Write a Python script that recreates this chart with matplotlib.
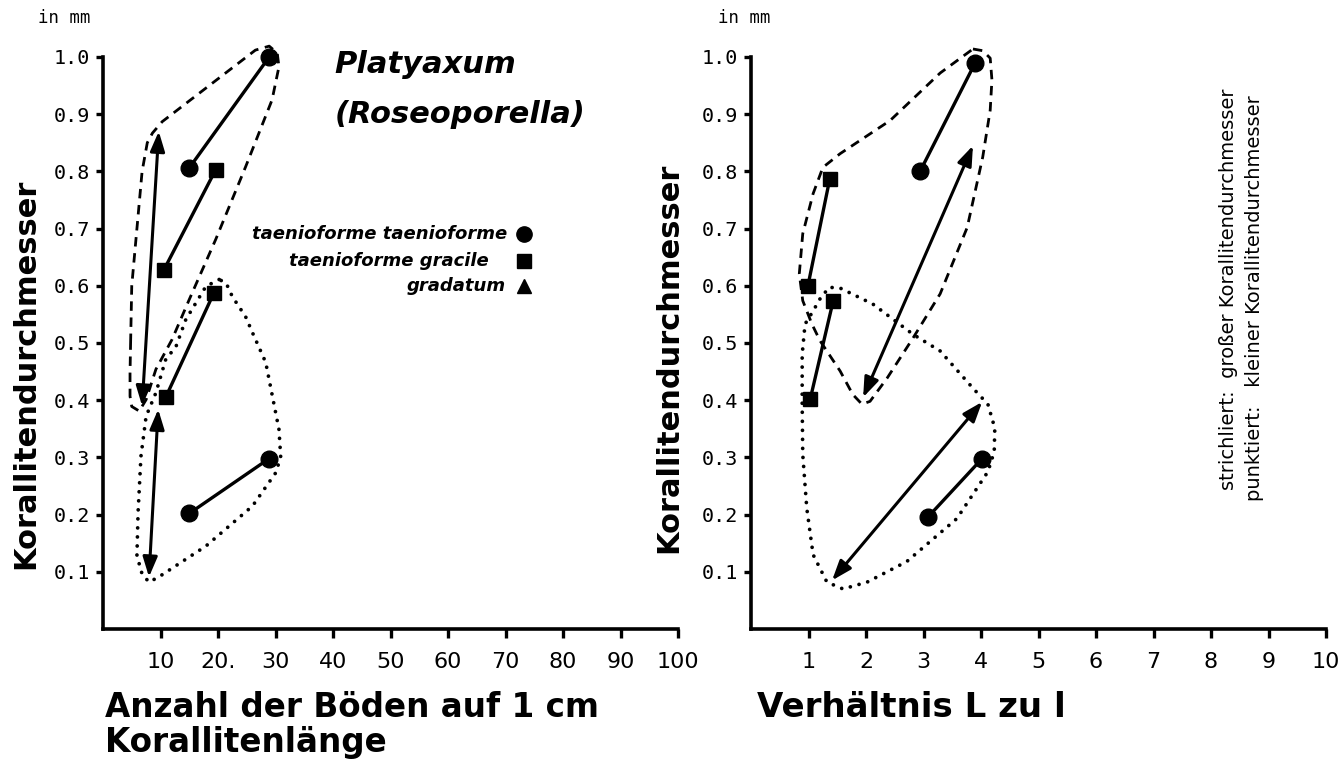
import matplotlib
matplotlib.use("Agg")
import matplotlib.pyplot as plt

# ----------------------------------------------------
# Data - left panel (Anzahl der Böden auf 1 cm)
# ----------------------------------------------------

left_xticks = [10, 20, 30, 40, 50, 60, 70, 80, 90, 100]
left_xticklabels = ["10", "20.", "30", "40", "50", "60", "70", "80", "90", "100"]

# taenioforme taenioforme (circles)
l_circ_big_x = [15.0, 28.9]
l_circ_big_y = [0.806, 1.0]
l_circ_small_x = [15.0, 28.9]
l_circ_small_y = [0.202, 0.298]

# taenioforme gracile (squares)
l_sq_big_x = [10.6, 19.6]
l_sq_big_y = [0.628, 0.803]
l_sq_small_x = [10.9, 19.3]
l_sq_small_y = [0.405, 0.588]

# gradatum (range arrows)
l_arr_big_x = [6.8, 9.7]
l_arr_big_y = [0.39, 0.87]
l_arr_small_x = [8.0, 9.6]
l_arr_small_y = [0.091, 0.384]

# outlines: dashed = large diameter, dotted = small diameter
l_dash_x = [4.8, 5.0, 5.9, 6.8, 7.7, 8.6, 10.3, 26.5, 28.9, 30.3, 30.6, 29.4, 24.8, 19.6, 15.0,
            12.0, 9.2, 7.5, 6.3, 5.0, 4.7, 4.7, 4.8]
l_dash_y = [0.50, 0.60, 0.70, 0.80, 0.85, 0.867, 0.887, 1.012, 1.019, 1.007, 0.983, 0.925, 0.808,
            0.681, 0.576, 0.506, 0.454, 0.401, 0.381, 0.389, 0.407, 0.448, 0.50]
l_dot_x = [20.2, 17.9, 14.4, 12.7, 10.9, 9.2, 7.5, 6.6, 6.1, 5.9, 6.8, 8.0, 9.7, 17.9, 26.0, 30.1,
           30.9, 30.6, 28.3, 26.0, 24.8, 22.5, 21.4, 20.2]
l_dot_y = [0.611, 0.599, 0.541, 0.494, 0.471, 0.413, 0.372, 0.302, 0.204, 0.128, 0.096, 0.082,
           0.091, 0.145, 0.215, 0.274, 0.302, 0.349, 0.466, 0.518, 0.546, 0.581, 0.605, 0.611]

# ----------------------------------------------------
# Data - right panel (Verhältnis L zu l)
# ----------------------------------------------------

right_xticks = [1, 2, 3, 4, 5, 6, 7, 8, 9, 10]

r_circ_big_x = [2.94, 3.90]
r_circ_big_y = [0.80, 0.99]
r_circ_small_x = [3.08, 4.02]
r_circ_small_y = [0.196, 0.298]

r_sq_big_x = [0.99, 1.37]
r_sq_big_y = [0.60, 0.787]
r_sq_small_x = [1.03, 1.43]
r_sq_small_y = [0.402, 0.574]

r_arr_big_x = [1.95, 3.86]
r_arr_big_y = [0.405, 0.845]
r_arr_small_x = [1.41, 4.02]
r_arr_small_y = [0.085, 0.397]

r_dash_x = [3.86, 4.03, 4.16, 4.19, 4.16, 4.03, 3.76, 3.29, 2.82, 2.37, 2.07, 1.93, 1.77, 1.55,
            1.20, 1.06, 0.90, 0.84, 0.90, 1.08, 1.25, 1.55, 2.42, 3.29, 3.86]
r_dash_y = [1.014, 1.011, 0.998, 0.960, 0.907, 0.825, 0.702, 0.586, 0.509, 0.439, 0.398, 0.393,
            0.410, 0.451, 0.504, 0.533, 0.574, 0.621, 0.691, 0.761, 0.807, 0.831, 0.889, 0.972,
            1.014]
r_dot_x = [1.41, 1.55, 2.12, 2.82, 3.29, 3.86, 4.12, 4.24, 4.23, 4.12, 3.58, 2.71, 2.02, 1.60,
           1.32, 1.08, 0.97, 0.90, 0.89, 0.89, 0.94, 1.08, 1.25, 1.41]
r_dot_y = [0.597, 0.596, 0.568, 0.515, 0.486, 0.421, 0.393, 0.351, 0.310, 0.275, 0.193, 0.118,
           0.082, 0.070, 0.082, 0.130, 0.211, 0.305, 0.393, 0.480, 0.533, 0.556, 0.586, 0.597]

yticks = [0.1, 0.2, 0.3, 0.4, 0.5, 0.6, 0.7, 0.8, 0.9, 1.0]
yticklabels = [f"{v:.1f}" for v in yticks]

legend_labels = ["taenioforme taenioforme", "taenioforme gracile", "gradatum"]
legend_markers = ["o", "s", "^"]
legend_text_x = [70.3, 67.1, 70.0]
legend_y = [0.691, 0.644, 0.599]

# ----------------------------------------------------
# Figure
# ----------------------------------------------------

MONO = "DejaVu Sans Mono"
SANS = "DejaVu Sans"

fig = plt.figure(figsize=(13.41, 7.6), dpi=100)

ax_l = fig.add_axes([103 / 1341, 131 / 760, 575 / 1341, 572 / 760])
ax_r = fig.add_axes([751 / 1341, 131 / 760, 575 / 1341, 572 / 760])

dash_style = (0, (3.4, 2.4))
dot_style = (0, (0.01, 2.4))


def style_axes(ax, xmax, xticks, xticklabels):
    ax.set_xlim(0, xmax)
    ax.set_ylim(0, 1.0)
    for side in ["top", "right"]:
        ax.spines[side].set_visible(False)
    for side in ["left", "bottom"]:
        ax.spines[side].set_linewidth(2.6)
    ax.set_xticks(xticks)
    ax.set_xticklabels(xticklabels, fontfamily=SANS, fontsize=16)
    ax.set_yticks(yticks)
    ax.set_yticklabels(yticklabels, fontfamily=MONO, fontsize=14.5)
    ax.tick_params(axis="x", length=6.5, width=2.4, pad=10)
    ax.tick_params(axis="y", length=5, width=2.4, pad=4)


def draw_panel(ax, circ, sq, arr, dash, dot):
    for xs, ys in circ:
        ax.plot(xs, ys, "-", color="black", lw=2.4, marker="o", ms=12, clip_on=False)
    for xs, ys in sq:
        ax.plot(xs, ys, "-", color="black", lw=2.4, marker="s", ms=9.5, clip_on=False)
    for xs, ys in arr:
        ax.annotate("", xy=(xs[1], ys[1]), xytext=(xs[0], ys[0]),
                    arrowprops=dict(arrowstyle="<|-|>,head_length=0.6,head_width=0.22",
                                    color="black", lw=2.2, mutation_scale=20,
                                    shrinkA=0, shrinkB=0))
    ax.plot(dash[0], dash[1], color="black", lw=2.0, linestyle=dash_style,
            solid_joinstyle="round", clip_on=False)
    ax.plot(dot[0], dot[1], color="black", lw=2.7, linestyle=dot_style,
            dash_capstyle="round", clip_on=False)


style_axes(ax_l, 100, left_xticks, left_xticklabels)
style_axes(ax_r, 10, right_xticks, [str(v) for v in right_xticks])

draw_panel(ax_l,
           [(l_circ_big_x, l_circ_big_y), (l_circ_small_x, l_circ_small_y)],
           [(l_sq_big_x, l_sq_big_y), (l_sq_small_x, l_sq_small_y)],
           [(l_arr_big_x, l_arr_big_y), (l_arr_small_x, l_arr_small_y)],
           (l_dash_x, l_dash_y), (l_dot_x, l_dot_y))

draw_panel(ax_r,
           [(r_circ_big_x, r_circ_big_y), (r_circ_small_x, r_circ_small_y)],
           [(r_sq_big_x, r_sq_big_y), (r_sq_small_x, r_sq_small_y)],
           [(r_arr_big_x, r_arr_big_y), (r_arr_small_x, r_arr_small_y)],
           (r_dash_x, r_dash_y), (r_dot_x, r_dot_y))

# ----------------------------------------------------
# Labels
# ----------------------------------------------------

for ax, lab_x, lab_y, inmm_x in [(ax_l, -0.134, 0.447, -0.113), (ax_r, -0.143, 0.474, -0.057)]:
    ax.text(lab_x, lab_y, "Korallitendurchmesser", transform=ax.transAxes,
            rotation=90, ha="center", va="center",
            fontfamily=SANS, fontweight="bold", fontsize=22)
    ax.text(inmm_x, 1.068, "in mm", transform=ax.transAxes,
            ha="left", va="center", fontfamily=MONO, fontsize=12.5)

ax_l.text(0.004, -0.108, "Anzahl der Böden auf 1 cm\nKorallitenlänge",
          transform=ax_l.transAxes, ha="left", va="top",
          fontfamily=SANS, fontweight="bold", fontsize=23.5, linespacing=1.08)
ax_r.text(0.010, -0.108, "Verhältnis L zu l",
          transform=ax_r.transAxes, ha="left", va="top",
          fontfamily=SANS, fontweight="bold", fontsize=24.5)

# title
ax_l.text(40.2, 0.972, "Platyaxum", ha="left", va="baseline",
          fontfamily=SANS, fontweight="bold", fontstyle="italic", fontsize=22)
ax_l.text(40.2, 0.885, "(Roseoporella)", ha="left", va="baseline",
          fontfamily=SANS, fontweight="bold", fontstyle="italic", fontsize=22)

# legend drawn as text + marker
for label, marker, tx, ly in zip(legend_labels, legend_markers, legend_text_x, legend_y):
    ax_l.text(tx, ly, label, ha="right", va="center",
              fontfamily=SANS, fontstyle="italic", fontweight="bold", fontsize=13)
    ax_l.plot([73.2], [ly], marker=marker, color="black",
              ms={"o": 11, "s": 9.5, "^": 10}[marker], linestyle="none")

# key for outline styles
fig.text(1228 / 1341, 1 - 88 / 760, "strichliert:  großer Korallitendurchmesser",
         rotation=90, ha="center", va="top", fontfamily=SANS, fontsize=14)
fig.text(1255 / 1341, 1 - 95 / 760, "punktiert:   kleiner Korallitendurchmesser",
         rotation=90, ha="center", va="top", fontfamily=SANS, fontsize=14)

plt.savefig("out.png", dpi=100, facecolor="white")
plt.close()
